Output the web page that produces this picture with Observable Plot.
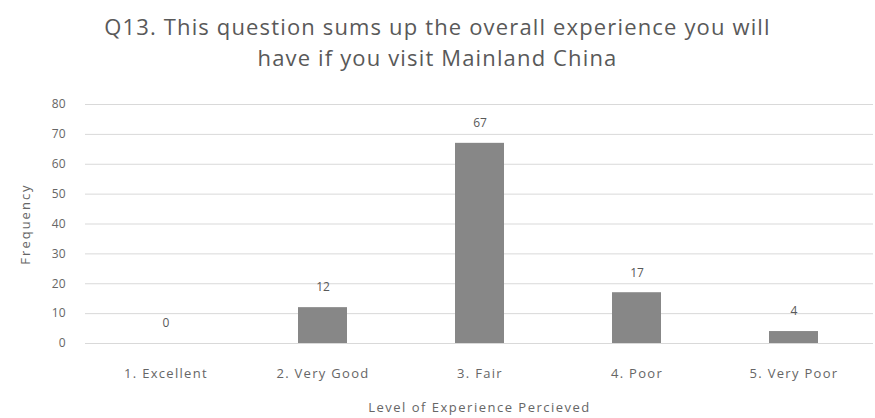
<!DOCTYPE html>
<html>
<head>
<meta charset="utf-8">
<script src="https://cdn.jsdelivr.net/npm/d3@7"></script>
<script src="https://cdn.jsdelivr.net/npm/@observablehq/plot@0.6"></script>
<style>
  html, body { margin: 0; padding: 0; background: #ffffff; }
  #wrap { width: 875px; height: 418px; overflow: hidden; }
  #title {
    height: 95px; box-sizing: border-box; padding-top: 11px;
    font-family: "Open Sans", sans-serif; font-size: 22px; line-height: 31px;
    letter-spacing: 1.15px;
    color: #595959; text-align: center; width: 875px;
  }
  #title div { margin: 0; }
</style>
</head>
<body>
<div id="wrap">
  <div id="title"><div>Q13. This question sums up the overall experience you will</div><div>have if you visit Mainland China</div></div>
  <div id="chart"></div>
</div>
<script>
const categories = ["1. Excellent", "2. Very Good", "3. Fair", "4. Poor", "5. Very Poor"];
const frequencies = [0, 12, 67, 17, 4];
const yTicks = [0, 10, 20, 30, 40, 50, 60, 70, 80];
const xTitle = "Level of Experience Percieved";
const yTitle = "Frequency";

const data = categories.map((c, i) => ({category: c, value: frequencies[i]}));

const chart = Plot.plot({
  width: 875,
  height: 323,
  marginTop: 9,
  marginBottom: 75,
  marginLeft: 85,
  marginRight: 2,
  style: {fontFamily: "'Open Sans', sans-serif", color: "#666666", background: "#ffffff"},
  x: {domain: categories, paddingInner: 0.69, paddingOuter: 0.345, label: null},
  y: {domain: [0, 80], label: null},
  marks: [
    Plot.gridY(yTicks, {stroke: "#d9d9d9", strokeOpacity: 1, strokeWidth: 1}),
    Plot.barY(data, {x: "category", y: "value", fill: "#878787"}),
    Plot.text(data, {x: "category", y: "value", text: d => String(d.value), dy: -20, fontSize: 12, fill: "#595959"}),
    Plot.axisX({tickSize: 0, tickPadding: 25, fontSize: 13, label: xTitle, labelAnchor: "center", labelOffset: 68, labelArrow: "none"}),
    Plot.axisY(yTicks, {tickSize: 0, tickPadding: 20, fontSize: 12, label: yTitle, labelAnchor: "center", labelOffset: 65, labelArrow: "none"})
  ]
});
const sel = d3.select(chart);
sel.selectAll('[aria-label="x-axis tick label"] text').style("letter-spacing", "1.3px");
sel.selectAll('[aria-label="x-axis label"] text').style("letter-spacing", "1.5px").style("font-size", "13px");
sel.selectAll('[aria-label="y-axis label"] text').style("letter-spacing", "2px").style("font-size", "13px");
document.getElementById("chart").appendChild(chart);
</script>
</body>
</html>
